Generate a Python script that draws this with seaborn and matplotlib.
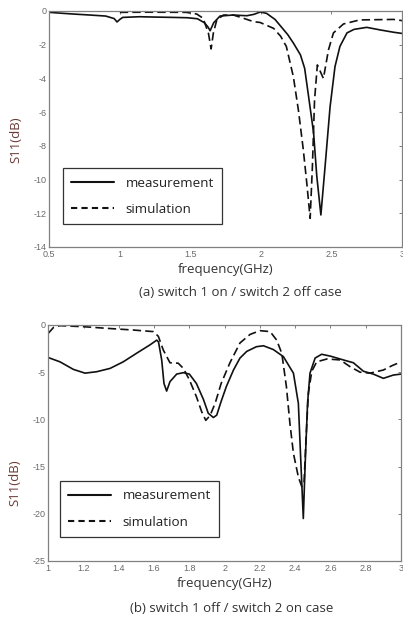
import numpy as np
import pandas as pd
import matplotlib
matplotlib.use("Agg")
import matplotlib.pyplot as plt
import seaborn as sns

# (a) switch 1 on / switch 2 off
a_meas_f = [0.5, 0.6, 0.67, 0.79, 0.9, 0.96, 0.98, 1.0, 1.02, 1.14, 1.25, 1.38, 1.48, 1.55,
            1.6, 1.625, 1.64, 1.665, 1.71, 1.8, 1.9, 1.95, 1.995, 2.04, 2.1, 2.14, 2.19,
            2.23, 2.28, 2.31, 2.34, 2.373, 2.396, 2.425, 2.455, 2.49, 2.525, 2.56, 2.61, 2.66,
            2.75, 2.85, 2.94, 3.0]
a_meas_db = [-0.08, -0.14, -0.18, -0.24, -0.3, -0.45, -0.65, -0.5, -0.38, -0.34, -0.36, -0.38,
             -0.4, -0.46, -0.7, -0.95, -1.17, -0.7, -0.3, -0.24, -0.28, -0.2, -0.06, -0.14,
             -0.5, -0.9, -1.4, -1.9, -2.6, -3.4, -5.2, -7.2, -9.8, -12.1, -9.2, -5.7, -3.3, -2.1,
             -1.3, -1.09, -0.97, -1.13, -1.26, -1.33]
a_sim_f = [1.0, 1.2, 1.47, 1.545, 1.59, 1.628, 1.647, 1.663, 1.687, 1.734, 1.805, 1.876, 1.947,
           1.994, 2.09, 2.14, 2.18, 2.23, 2.266, 2.30, 2.325, 2.349, 2.365, 2.38, 2.40, 2.443,
           2.479, 2.514, 2.585, 2.70, 2.94, 3.0]
a_sim_db = [-0.08, -0.07, -0.08, -0.18, -0.43, -1.32, -2.25, -1.3, -0.54, -0.24, -0.24, -0.43,
            -0.63, -0.68, -1.03, -1.5, -2.1, -3.9, -5.9, -8.2, -10.2, -12.3, -9.2, -5.3, -3.2,
            -4.0, -2.3, -1.3, -0.77, -0.53, -0.5, -0.57]

# (b) switch 1 off / switch 2 on
b_meas_f = [1.0, 1.066, 1.142, 1.208, 1.274, 1.35, 1.425, 1.50, 1.577, 1.615, 1.625, 1.643,
            1.656, 1.671, 1.69, 1.728, 1.766, 1.80, 1.84, 1.88, 1.907, 1.936, 1.955, 1.98,
            2.01, 2.05, 2.087, 2.125, 2.18, 2.22, 2.276, 2.333, 2.39, 2.418, 2.43, 2.446,
            2.456, 2.47, 2.484, 2.513, 2.55, 2.60, 2.673, 2.73, 2.787, 2.843, 2.90, 2.957, 3.0]
b_meas_db = [-3.45, -3.9, -4.7, -5.1, -4.95, -4.6, -3.9, -3.0, -2.1, -1.6, -1.8, -3.7, -6.2,
             -7.0, -6.0, -5.2, -5.05, -5.2, -6.2, -7.9, -9.35, -9.8, -9.55, -8.1, -6.5, -4.77,
             -3.5, -2.8, -2.3, -2.2, -2.6, -3.35, -5.1, -8.3, -13.6, -20.5, -15.0, -8.3, -5.1,
             -3.5, -3.1, -3.3, -3.7, -4.0, -4.9, -5.2, -5.65, -5.3, -5.2]
b_sim_f = [1.0, 1.03, 1.066, 1.2, 1.33, 1.48, 1.596, 1.624, 1.652, 1.69, 1.737, 1.766, 1.80,
           1.84, 1.87, 1.893, 1.917, 1.946, 1.98, 2.03, 2.087, 2.144, 2.2, 2.258, 2.295, 2.324,
           2.35, 2.37, 2.39, 2.418, 2.437, 2.45, 2.462, 2.475, 2.494, 2.522, 2.58, 2.655, 2.71,
           2.768, 2.825, 2.90, 2.95, 3.0]
b_sim_db = [-0.88, -0.25, -0.07, -0.18, -0.35, -0.53, -0.7, -1.2, -2.65, -4.0, -4.05, -4.6,
            -5.8, -7.6, -9.2, -10.1, -9.6, -8.3, -6.2, -4.0, -1.9, -1.0, -0.6, -0.7, -1.6, -3.0,
            -6.5, -10.4, -13.6, -16.1, -17.1, -16.8, -11.8, -7.2, -4.9, -3.9, -3.6, -3.7, -4.4,
            -5.0, -5.1, -4.77, -4.3, -3.9]

a_xticks = [0.5, 1, 1.5, 2, 2.5, 3]
a_xlabels = ["0.5", "1", "1.5", "2", "2.5", "3"]
a_yticks = [0, -2, -4, -6, -8, -10, -12, -14]
b_xticks = [1, 1.2, 1.4, 1.6, 1.8, 2, 2.2, 2.4, 2.6, 2.8, 3]
b_xlabels = ["1", "1.2", "1.4", "1.6", "1.8", "2", "2.2", "2.4", "2.6", "2.8", "3"]
b_yticks = [0, -5, -10, -15, -20, -25]

sns.set_style("white")
plt.rcParams['font.family'] = ['Open Sans', 'DejaVu Sans']
plt.rcParams['axes.unicode_minus'] = False

fig = plt.figure(figsize=(4.03, 6.19), dpi=100)
ax_a = fig.add_axes([49.3 / 403, (619 - 247) / 619, 352.7 / 403, 236 / 619])
ax_b = fig.add_axes([48.3 / 403, (619 - 561) / 619, 352.7 / 403, 236 / 619])

label_col = '#6a3b35'
tick_col = '#6a6a6a'


def draw(ax, mf, mdb, sf, sdb, xlim, ylim, xticks, xlabels, yticks, leg_xy, ylab_y):
    df_m = pd.DataFrame({'f': mf, 'db': mdb})
    df_s = pd.DataFrame({'f': sf, 'db': sdb})
    sns.lineplot(data=df_m, x='f', y='db', ax=ax, color='#111111', lw=1.2,
                 label='measurement')
    sns.lineplot(data=df_s, x='f', y='db', ax=ax, color='#111111', lw=1.2,
                 dashes=False, label='simulation')
    ax.lines[1].set_dashes((5, 2.5))
    ax.set_xlim(*xlim)
    ax.set_ylim(*ylim)
    ax.set_xticks(xticks)
    ax.set_xticklabels(xlabels)
    ax.set_yticks(yticks)
    ax.set_yticklabels([str(t) for t in yticks])
    ax.tick_params(direction='in', length=2.5, width=0.6, colors=tick_col,
                   labelsize=6.5, top=True, right=True, pad=2,
                   labelfontfamily='Liberation Sans')
    for s in ax.spines.values():
        s.set_color('#808080')
        s.set_linewidth(0.9)
    ax.set_xlabel('frequency(GHz)', fontsize=9.5, color='#333333', labelpad=3)
    ax.set_ylabel('S11(dB)', fontsize=9.5, color=label_col)
    ax.yaxis.set_label_coords(-0.075, ylab_y)
    leg = ax.legend(loc='lower left', bbox_to_anchor=leg_xy, borderaxespad=0,
                    fontsize=9.7, frameon=True, fancybox=False, handlelength=3.2,
                    handletextpad=0.85, labelspacing=1.0, borderpad=0.6)
    leg.get_frame().set_edgecolor('black')
    leg.get_frame().set_linewidth(0.9)
    for t in leg.get_texts():
        t.set_color('#222222')
    for h in leg.get_lines():
        h.set_linewidth(1.5)
    leg.get_lines()[1].set_dashes((3, 2))


draw(ax_a, a_meas_f, a_meas_db, a_sim_f, a_sim_db, (0.5, 3), (-14, 0),
     a_xticks, a_xlabels, a_yticks, (0.039, 0.097), 0.453)
draw(ax_b, b_meas_f, b_meas_db, b_sim_f, b_sim_db, (1, 3), (-25, 0),
     b_xticks, b_xlabels, b_yticks, (0.033, 0.102), 0.33)

fig.text(240 / 403, 1 - 292 / 619, '(a) switch 1 on / switch 2 off case', ha='center',
         va='center', fontsize=9.5, color='#333333')
fig.text(232 / 403, 1 - 608 / 619, '(b) switch 1 off / switch 2 on case', ha='center',
         va='center', fontsize=9.5, color='#333333')

fig.savefig('out.png', dpi=100)
